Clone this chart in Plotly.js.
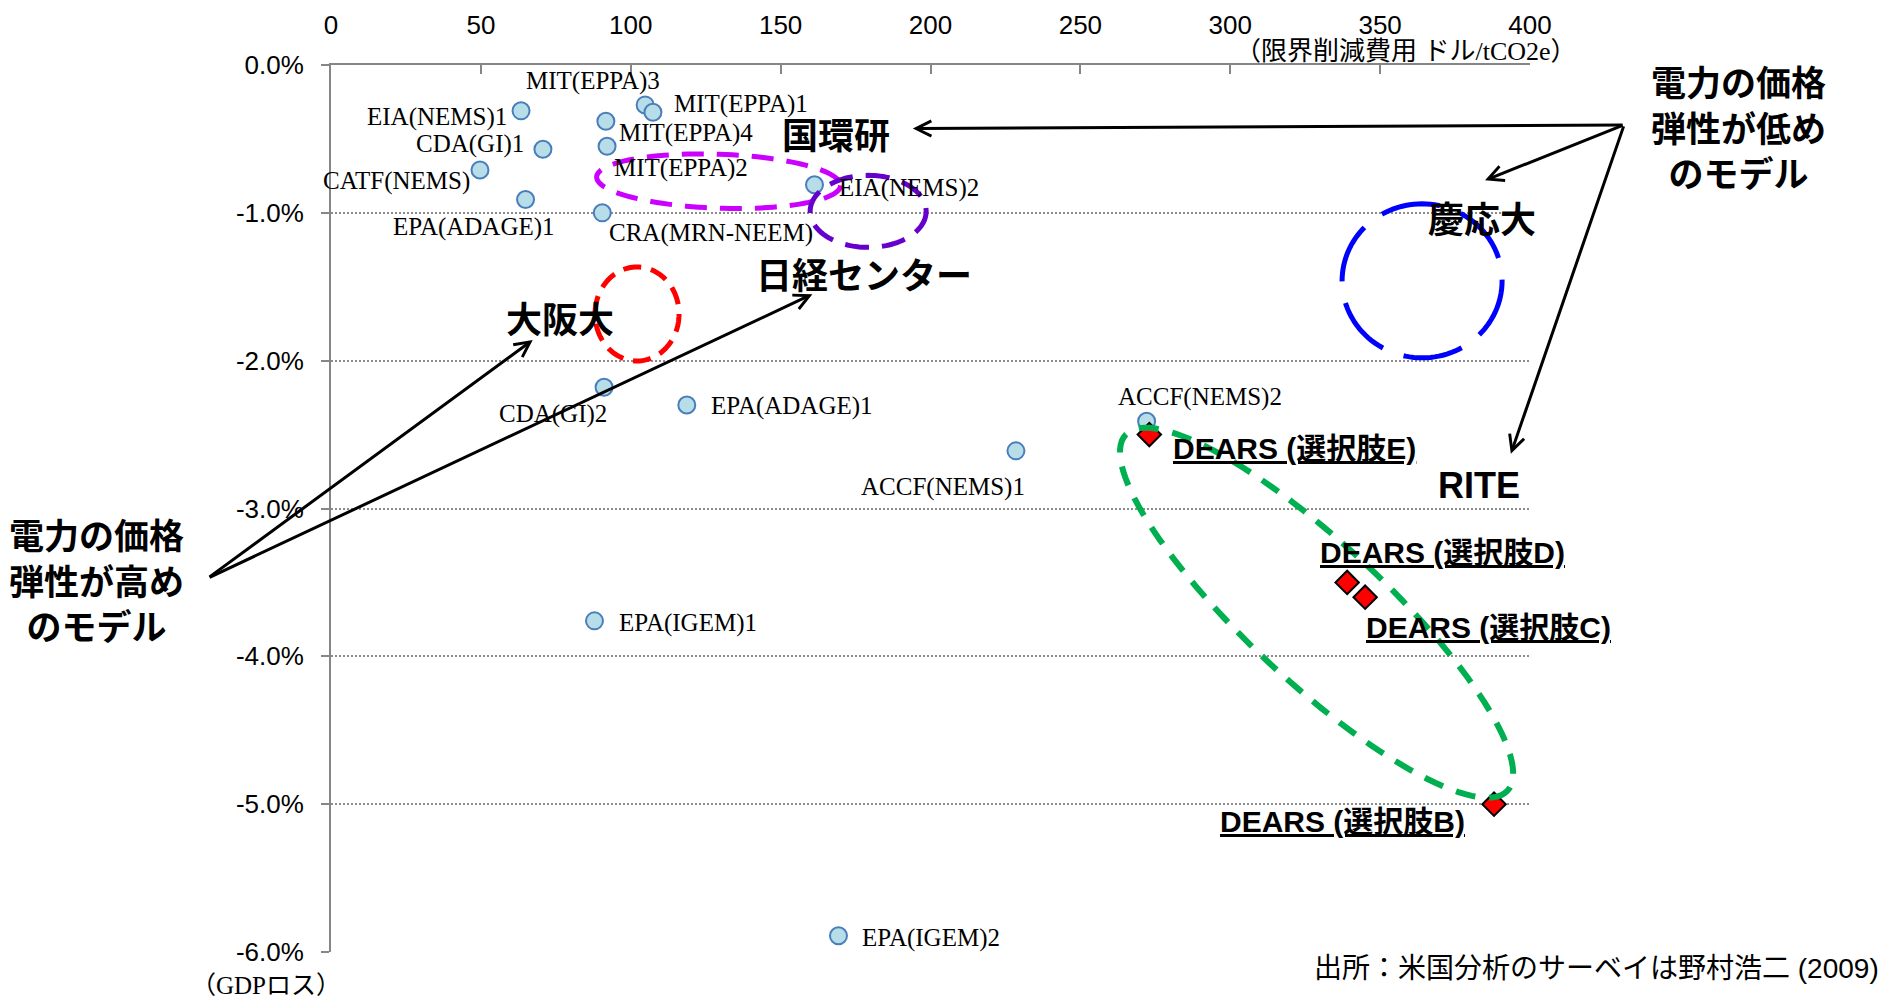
<!DOCTYPE html>
<html>
<head>
<meta charset="utf-8">
<script src="https://cdn.plot.ly/plotly-3.0.1.min.js"></script>
<style>
  html, body { margin: 0; padding: 0; background: #ffffff; }
  #chart { width: 1883px; height: 1001px; }
</style>
</head>
<body>
<div id="chart"></div>
<script>
// ---------------- data ----------------
// x: marginal abatement cost ($/tCO2e), y: GDP loss (%)
const modelNames = [
  'EIA(NEMS)1', 'MIT(EPPA)3', 'MIT(EPPA)1', 'MIT(EPPA)4', 'MIT(EPPA)2',
  'CDA(GI)1', 'CATF(NEMS)', 'EPA(ADAGE)1', 'CRA(MRN-NEEM)', 'EIA(NEMS)2',
  'CDA(GI)2', 'EPA(ADAGE)1', 'ACCF(NEMS)1', 'ACCF(NEMS)2', 'EPA(IGEM)1', 'EPA(IGEM)2'
];
const modelCost = [63.4, 104.8, 107.4, 91.7, 92.1, 70.7, 49.7, 64.9, 90.5, 161.3,
                   91.1, 118.7, 228.5, 272.1, 87.9, 169.3];
const modelGdp  = [-0.31, -0.27, -0.32, -0.38, -0.55, -0.57, -0.71, -0.91, -1.00, -0.81,
                   -2.18, -2.30, -2.61, -2.41, -3.76, -5.89];

const dearsNames = ['DEARS (選択肢B)', 'DEARS (選択肢C)', 'DEARS (選択肢D)', 'DEARS (選択肢E)'];
const dearsCost  = [388, 345, 339, 273];
const dearsGdp   = [-5.0, -3.6, -3.5, -2.5];

const xTickVals = [0, 50, 100, 150, 200, 250, 300, 350, 400];
const yTickVals = [0, -1, -2, -3, -4, -5, -6];
const yTickText = ['0.0%', '-1.0%', '-2.0%', '-3.0%', '-4.0%', '-5.0%', '-6.0%'];

const xAxisTitle = '（限界削減費用 ドル/tCO2e）';
const yAxisTitle = '（GDPロス）';
const sourceText = '出所：米国分析のサーベイは野村浩二 (2009)';

// ---------------- layout geometry ----------------
const W = 1883, H = 1001;
const M = { l: 331, r: 353, t: 65, b: 49 };
const PL = M.l, PR = W - M.r, PT = M.t, PB = H - M.b;
const XR = [0, 400], YR = [-6, 0];
const kx = (PR - PL) / (XR[1] - XR[0]);   // px per x unit
const ky = (PB - PT) / (YR[1] - YR[0]);   // px per y unit
const px2paperX = px => (px - PL) / (PR - PL);
const px2paperY = py => (PB - py) / (PB - PT);

// label placement for each model point (pixel offsets from the marker)
const modelLabelPos = [
  { a: 'right',  dx: -12, dy: 6 },
  { a: 'center', dx: -52, dy: -24 },
  { a: 'left',   dx: 19,  dy: -8 },
  { a: 'left',   dx: 11,  dy: 12 },
  { a: 'left',   dx: 5,   dy: 22 },
  { a: 'right',  dx: -17, dy: -5 },
  { a: 'right',  dx: -8,  dy: 11 },
  { a: 'right',  dx: 31,  dy: 27 },
  { a: 'left',   dx: 5,   dy: 20 },
  { a: 'left',   dx: 22,  dy: 3 },
  { a: 'right',  dx: 5,   dy: 27 },
  { a: 'left',   dx: 22,  dy: 1 },
  { a: 'right',  dx: 11,  dy: 36 },
  { a: 'left',   dx: -31, dy: -24 },
  { a: 'left',   dx: 23,  dy: 2 },
  { a: 'left',   dx: 22,  dy: 2 }
];
const dearsLabelPos = [
  { a: 'right', dx: -27, dy: 17 },
  { a: 'left',  dx: -1,  dy: 30 },
  { a: 'left',  dx: -29, dy: -30 },
  { a: 'left',  dx: 22,  dy: 14 }
];

const serif = 'Liberation Serif, Times New Roman, Noto Sans CJK JP, serif';
const sans  = 'Liberation Sans, Arial, Noto Sans CJK JP, sans-serif';
const jp    = 'Noto Sans CJK JP, sans-serif';

const annotations = [];

modelNames.forEach((name, i) => {
  const p = modelLabelPos[i];
  annotations.push({
    x: modelCost[i], y: modelGdp[i], xref: 'x', yref: 'y',
    text: name, showarrow: false,
    xanchor: p.a, yanchor: 'middle', xshift: p.dx, yshift: -p.dy,
    font: { family: serif, size: 25, color: '#000' }
  });
});

dearsNames.forEach((name, i) => {
  const p = dearsLabelPos[i];
  annotations.push({
    x: dearsCost[i], y: dearsGdp[i], xref: 'x', yref: 'y',
    text: '<u>' + name + '</u>', showarrow: false,
    xanchor: p.a, yanchor: 'middle', xshift: p.dx, yshift: -p.dy,
    font: { family: sans, size: 30, color: '#000', weight: 'bold' }
  });
});

// big bold group labels (pixel centers -> paper)
function bigText(text, cx, cy, family, size) {
  annotations.push({
    xref: 'paper', yref: 'paper', x: px2paperX(cx), y: px2paperY(cy),
    xanchor: 'center', yanchor: 'middle', text: text, showarrow: false,
    font: { family: family, size: size, color: '#000', weight: 'bold' }
  });
}
bigText('国環研', 836, 133, jp, 36);
bigText('慶応大', 1482, 217, jp, 36);
bigText('大阪大', 560, 317, jp, 36);
bigText('日経センター', 864, 273, jp, 36);
bigText('RITE', 1479, 485, sans, 36);

const lowLines  = ['電力の価格', '弾性が低め', 'のモデル'];
const highLines = ['電力の価格', '弾性が高め', 'のモデル'];
bigText(lowLines.join('<br>'), 1738, 126, jp, 35);
bigText(highLines.join('<br>'), 96, 579, jp, 35);

// axis titles & source
annotations.push({
  xref: 'paper', yref: 'paper', x: px2paperX(1579), y: px2paperY(52),
  xanchor: 'right', yanchor: 'middle', text: xAxisTitle, showarrow: false,
  font: { family: serif, size: 26, color: '#000' }
});
annotations.push({
  xref: 'paper', yref: 'paper', x: px2paperX(266), y: px2paperY(985),
  xanchor: 'center', yanchor: 'middle', text: yAxisTitle, showarrow: false,
  font: { family: serif, size: 25, color: '#000' }
});
annotations.push({
  xref: 'paper', yref: 'paper', x: px2paperX(1881), y: px2paperY(968),
  xanchor: 'right', yanchor: 'middle', text: sourceText, showarrow: false,
  font: { family: sans, size: 28, color: '#000' }
});

// arrows (head, tail) in data coordinates
const arrowSpecs = [
  { hx: 194.1, hy: -0.43, tx: 431.4, ty: -0.405 },
  { hx: 385.0, hy: -0.78, tx: 431.4, ty: -0.405 },
  { hx: 393.6, hy: -2.63, tx: 431.4, ty: -0.405 },
  { hx: 67.3,  hy: -1.86, tx: -41.0, ty: -3.47 },
  { hx: 160.6, hy: -1.55, tx: -41.0, ty: -3.47 }
];
arrowSpecs.forEach(a => {
  annotations.push({
    x: a.hx, y: a.hy, xref: 'x', yref: 'y',
    ax: a.tx, ay: a.ty, axref: 'x', ayref: 'y',
    text: '', showarrow: true, arrowhead: 5, arrowsize: 1, arrowwidth: 3,
    arrowcolor: '#000', standoff: 0, startstandoff: 0
  });
});

// dashed ellipses (center in data coords, radii in px, rotation in degrees clockwise)
function ellipsePath(cx, cy, rx, ry, angDeg) {
  const a = angDeg * Math.PI / 180;
  let d = '';
  const n = 120;
  for (let i = 0; i <= n; i++) {
    const t = i / n * 2 * Math.PI;
    const ex = rx * Math.cos(t), ey = ry * Math.sin(t);
    const px = ex * Math.cos(a) - ey * Math.sin(a);
    const py = ex * Math.sin(a) + ey * Math.cos(a);
    const X = cx + px / kx, Y = cy - py / ky;
    d += (i ? 'L' : 'M') + X.toFixed(4) + ',' + Y.toFixed(4);
  }
  return d + 'Z';
}
const ellipseSpecs = [
  { cx: 129.3, cy: -0.786, rx: 122, ry: 27, ang: 2,  color: '#cc00ff', w: 5, dash: '22px,13px' },
  { cx: 179.2, cy: -0.99,  rx: 58,  ry: 36, ang: 0,  color: '#6600cc', w: 5, dash: '24px,13px' },
  { cx: 102.1, cy: -1.684, rx: 42,  ry: 47, ang: 0,  color: '#ff0000', w: 5, dash: '18px,10px' },
  { cx: 364.0, cy: -1.46,  rx: 80,  ry: 77, ang: 0,  color: '#0000ff', w: 5, dash: '60px,22px' },
  { cx: 328.8, cy: -3.705, rx: 261, ry: 69, ang: 43, color: '#00b050', w: 6, dash: '20px,14px' }
];
const shapes = ellipseSpecs.map(e => ({
  type: 'path', xref: 'x', yref: 'y', layer: 'above',
  path: ellipsePath(e.cx, e.cy, e.rx, e.ry, e.ang),
  line: { color: e.color, width: e.w, dash: e.dash },
  fillcolor: 'rgba(0,0,0,0)'
}));

const traces = [
  {
    type: 'scatter', mode: 'markers', x: modelCost, y: modelGdp, text: modelNames,
    marker: { symbol: 'circle', size: 17, color: '#b7dde8', line: { color: '#4a7ebb', width: 2 } },
    hoverinfo: 'text', cliponaxis: false
  },
  {
    type: 'scatter', mode: 'markers', x: dearsCost, y: dearsGdp, text: dearsNames,
    marker: { symbol: 'diamond', size: 18, color: '#ff0000', line: { color: '#000000', width: 2 } },
    hoverinfo: 'text', cliponaxis: false
  }
];

const tickFont = { family: sans, size: 26, color: '#000' };
const layout = {
  width: W, height: H,
  margin: { l: M.l, r: M.r, t: M.t, b: M.b, pad: 0 },
  paper_bgcolor: '#ffffff', plot_bgcolor: '#ffffff',
  showlegend: false,
  xaxis: {
    side: 'top', range: XR, tickmode: 'array', tickvals: xTickVals,
    ticks: 'inside', ticklen: 9, tickwidth: 2, tickcolor: '#868686',
    showline: true, linecolor: '#868686', linewidth: 2,
    showgrid: false, zeroline: false, tickfont: tickFont,
    ticklabelstandoff: 19, fixedrange: true
  },
  yaxis: {
    range: YR, tickmode: 'array', tickvals: yTickVals, ticktext: yTickText,
    ticks: 'outside', ticklen: 8, tickwidth: 2, tickcolor: '#868686',
    showline: true, linecolor: '#868686', linewidth: 2,
    showgrid: true, gridcolor: '#8c8c8c', gridwidth: 1.5, griddash: '2px,2px',
    zeroline: false, tickfont: tickFont, ticklabelstandoff: 12, fixedrange: true
  },
  annotations: annotations,
  shapes: shapes
};

Plotly.newPlot('chart', traces, layout, { displayModeBar: false, responsive: false });
</script>
</body>
</html>
